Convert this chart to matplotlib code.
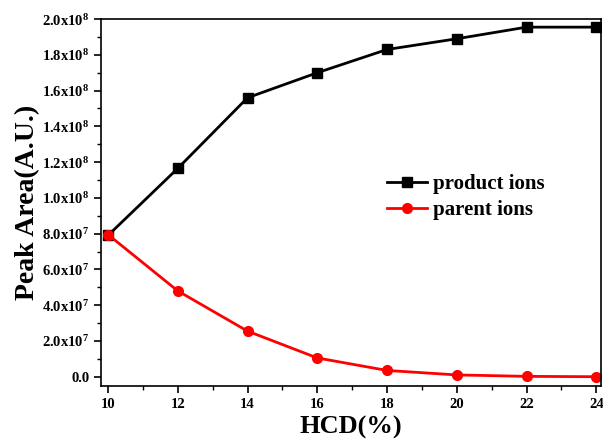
import math
import matplotlib
matplotlib.use("Agg")
import matplotlib.pyplot as plt
from matplotlib.ticker import FixedLocator, MultipleLocator, FuncFormatter

plt.rcParams['font.family'] = ['Liberation Serif', 'DejaVu Serif']
plt.rcParams['font.weight'] = 'bold'
plt.rcParams['mathtext.fontset'] = 'custom'
plt.rcParams['mathtext.rm'] = 'Liberation Serif:bold'
plt.rcParams['mathtext.it'] = 'Liberation Serif:bold'
plt.rcParams['mathtext.bf'] = 'Liberation Serif:bold'
plt.rcParams['mathtext.default'] = 'rm'

hcd = [10, 12, 14, 16, 18, 20, 22, 24]
product_ions = [7.9e7, 1.165e8, 1.56e8, 1.70e8, 1.83e8, 1.89e8, 1.955e8, 1.955e8]
parent_ions = [7.95e7, 4.8e7, 2.55e7, 1.05e7, 3.5e6, 1.0e6, 2e5, 0.0]
y_ticks = [0, 2e7, 4e7, 6e7, 8e7, 1e8, 1.2e8, 1.4e8, 1.6e8, 1.8e8, 2.0e8]
x_ticks = [10, 12, 14, 16, 18, 20, 22, 24]

fig = plt.figure(figsize=(6.03, 4.41), dpi=100)
ax = fig.add_axes([0.1675, 0.1247, 0.8295, 0.832])

ax.plot(hcd, product_ions, '-', color='black', lw=2, marker='s', ms=6.5, label='product ions')
ax.plot(hcd, parent_ions, '-', color='#ff0000', lw=2, marker='o', ms=7, label='parent ions')

ax.set_xlim(9.8, 24.14)
ax.set_ylim(-5.2e6, 2.0e8)

def yfmt(v, pos):
    if v == 0:
        return '0.0'
    e = int(math.floor(math.log10(abs(v)) + 1e-9))
    m = v / 10**e
    return f'{m:.1f}x10$^{{{e}}}$'

ax.yaxis.set_major_locator(FixedLocator(y_ticks))
ax.yaxis.set_minor_locator(MultipleLocator(1e7))
ax.yaxis.set_major_formatter(FuncFormatter(yfmt))
ax.xaxis.set_major_locator(FixedLocator(x_ticks))
ax.xaxis.set_minor_locator(MultipleLocator(1))

ax.tick_params(axis='both', which='major', direction='out', length=5, width=1.2, labelsize=10.5)
ax.tick_params(axis='both', which='minor', direction='out', length=3, width=1.0)
for lbl in ax.get_xticklabels() + ax.get_yticklabels():
    lbl.set_fontweight('bold')
for s in ax.spines.values():
    s.set_linewidth(1.2)

ax.set_xlabel('HCD(%)', fontsize=19, fontweight='bold', labelpad=4)
ax.set_ylabel('Peak Area(A.U.)', fontsize=20, fontweight='bold', labelpad=1)

leg = ax.legend(loc='upper left', bbox_to_anchor=(0.555, 0.60), frameon=False,
                prop={'family': 'Liberation Serif', 'weight': 'bold', 'size': 15},
                handlelength=1.9, handletextpad=0.3, labelspacing=0.3, borderaxespad=0)

fig.savefig('out.png', dpi=100)
